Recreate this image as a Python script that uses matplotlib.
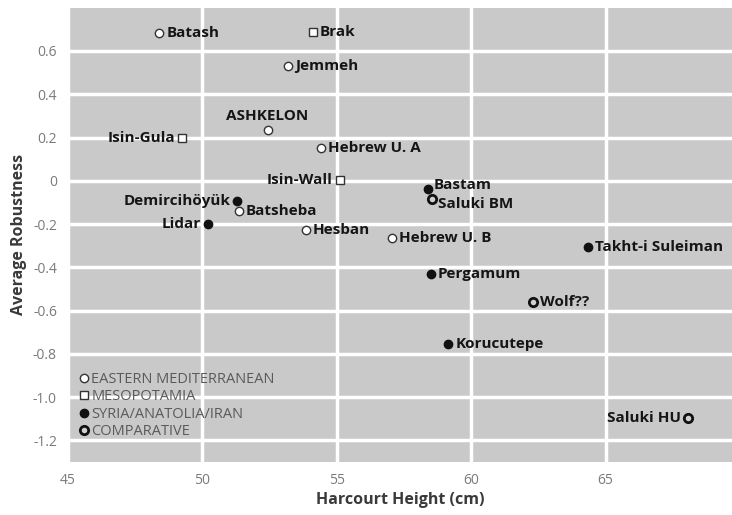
import matplotlib
matplotlib.use("Agg")
import matplotlib.pyplot as plt
from matplotlib.lines import Line2D

plt.rcParams['font.family'] = ['Open Sans', 'DejaVu Sans']

# site data
sites = ["Batash", "Brak", "Jemmeh", "ASHKELON", "Isin-Gula", "Hebrew U. A",
         "Isin-Wall", "Demircihöyük", "Batsheba", "Lidar", "Hesban", "Bastam",
         "Saluki BM", "Hebrew U. B", "Takht-i Suleiman", "Pergamum", "Wolf??",
         "Korucutepe", "Saluki HU"]
height = [48.4, 54.1, 53.2, 52.45, 49.25, 54.4,
          55.1, 51.3, 51.35, 50.2, 53.85, 58.4,
          58.55, 57.05, 64.35, 58.5, 62.3,
          59.15, 68.05]
robust = [0.685, 0.69, 0.53, 0.233, 0.2, 0.153,
          0.005, -0.093, -0.142, -0.2, -0.228, -0.038,
          -0.083, -0.265, -0.305, -0.43, -0.562,
          -0.755, -1.098]
region = ["E", "M", "E", "E", "M", "E",
          "M", "S", "E", "S", "E", "S",
          "C", "E", "S", "S", "C",
          "S", "C"]
# where each label sits relative to its point
label_side = ["r", "r", "r", "t", "l", "r",
              "l", "l", "r", "l", "r", "ru",
              "rd", "r", "r", "r", "r",
              "r", "l"]

region_names = {"E": "EASTERN MEDITERRANEAN", "M": "MESOPOTAMIA",
                "S": "SYRIA/ANATOLIA/IRAN", "C": "COMPARATIVE"}
styles = {
    "E": dict(marker="o", markersize=6, markerfacecolor="white", markeredgecolor="#333333", markeredgewidth=1.0),
    "M": dict(marker="s", markersize=6, markerfacecolor="white", markeredgecolor="#333333", markeredgewidth=1.0),
    "S": dict(marker="o", markersize=6, markerfacecolor="#111111", markeredgecolor="#111111", markeredgewidth=1.0),
    "C": dict(marker="o", markersize=6, markerfacecolor="#d0d0d0", markeredgecolor="#111111", markeredgewidth=2.0),
}

fig = plt.figure(figsize=(7.32, 5.15), dpi=100)
ax = fig.add_axes([0.093, 0.103, 0.907, 0.882])
ax.set_facecolor("#c9c9c9")

for key in ["E", "M", "S", "C"]:
    xs = [h for h, r in zip(height, region) if r == key]
    ys = [v for v, r in zip(robust, region) if r == key]
    ax.plot(xs, ys, linestyle="none", zorder=3, **styles[key])

offsets = {"r": ((5, 0), "left", "center"), "l": ((-5, 0), "right", "center"),
           "t": ((-1, 5), "center", "bottom"), "ru": ((4, 3), "left", "center"),
           "rd": ((4, -4), "left", "center")}
for name, x, y, side in zip(sites, height, robust, label_side):
    off, ha, va = offsets[side]
    ax.annotate(name, (x, y), xytext=off, textcoords="offset points",
                ha=ha, va=va, fontsize=11, fontweight="bold", color="#151515")

ax.set_xlim(45, 69.7)
ax.set_ylim(-1.3, 0.8)
ax.set_xticks([45, 50, 55, 60, 65])
ax.set_yticks([-1.2, -1.0, -0.8, -0.6, -0.4, -0.2, 0, 0.2, 0.4, 0.6])
ax.set_yticklabels(["-1.2", "-1.0", "-0.8", "-0.6", "-0.4", "-0.2", "0", "0.2", "0.4", "0.6"])
ax.grid(True, color="white", linewidth=2.5)
ax.set_axisbelow(True)
for s in ax.spines.values():
    s.set_visible(False)
ax.tick_params(length=0, labelsize=10, colors="#7a7a7a", pad=8)

ax.set_xlabel("Harcourt Height (cm)", fontsize=11.5, fontweight="bold", color="#3a3a3a", labelpad=3)
ax.set_ylabel("Average Robustness", fontsize=11.5, fontweight="bold", color="#3a3a3a", labelpad=4)

handles = [Line2D([], [], linestyle="none", **styles[k]) for k in ["E", "M", "S", "C"]]
ax.legend(handles, [region_names[k] for k in ["E", "M", "S", "C"]],
          loc="upper left", bbox_to_anchor=(0.0, 0.22), frameon=False,
          fontsize=10.5, labelcolor="#5a5a5a", handletextpad=0.1, handlelength=0.8,
          labelspacing=0.15, borderaxespad=0.3)

fig.savefig("out.png", dpi=100)
